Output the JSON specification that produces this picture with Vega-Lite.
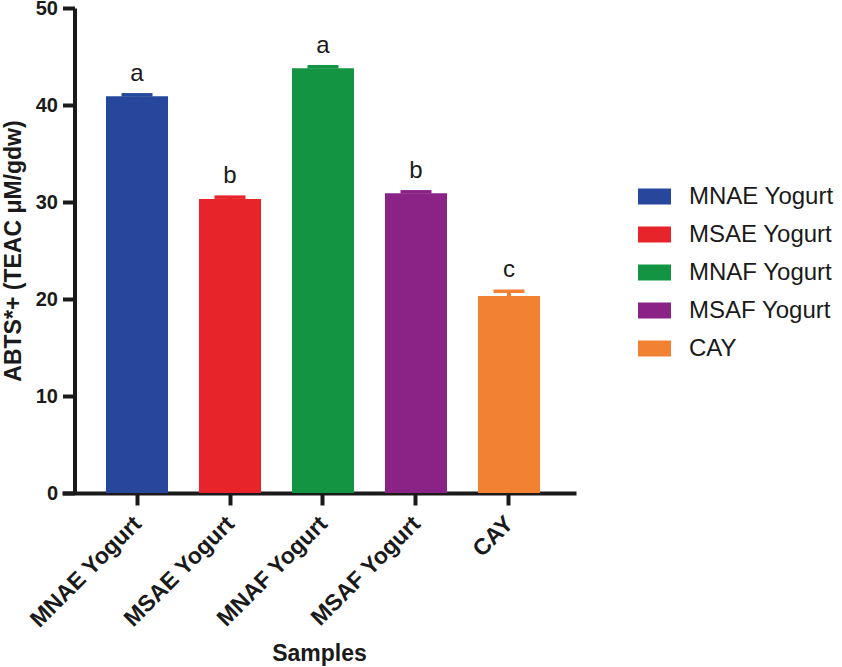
{
  "$schema": "https://vega.github.io/schema/vega-lite/v6.json",
  "autosize": {"type": "none"},
  "padding": {"left": 62, "top": 8, "right": 266, "bottom": 174},
  "width": 514,
  "height": 485,
  "background": "white",
  "config": {
    "view": {"stroke": null},
    "font": "Liberation Sans",
    "axis": {"grid": false, "domainColor": "#1a1a1a", "tickColor": "#1a1a1a", "labelColor": "#1a1a1a", "titleColor": "#1a1a1a", "zindex": 1}
  },
  "data": {
    "values": [
      {"Sample": "MNAE Yogurt", "ABTS": 40.9, "upper": 41.05, "group": "a"},
      {"Sample": "MSAE Yogurt", "ABTS": 30.3, "upper": 30.5, "group": "b"},
      {"Sample": "MNAF Yogurt", "ABTS": 43.8, "upper": 43.95, "group": "a"},
      {"Sample": "MSAF Yogurt", "ABTS": 30.9, "upper": 31.05, "group": "b"},
      {"Sample": "CAY", "ABTS": 20.3, "upper": 20.8, "group": "c"}
    ]
  },
  "encoding": {
    "x": {
      "field": "Sample",
      "type": "nominal",
      "sort": null,
      "scale": {"paddingInner": 0.333, "paddingOuter": 0.43, "align": 0.55},
      "axis": {
        "title": "Samples",
        "titleFontWeight": "bold",
        "titleFontSize": 23,
        "titlePadding": 11,
        "labelAngle": -45,
        "labelAlign": "right",
        "labelBaseline": "top",
        "labelFontSize": 23,
        "labelFontWeight": "bold",
        "labelPadding": 7,
        "labelOffset": -7,
        "domainWidth": 4,
        "tickWidth": 4,
        "tickSize": 12
      }
    },
    "y": {
      "type": "quantitative",
      "scale": {"domain": [0, 50]},
      "axis": {
        "title": "ABTS*+ (TEAC μM/gdw)",
        "titleFontWeight": "bold",
        "titleFontSize": 23,
        "titlePadding": 10,
        "values": [0, 10, 20, 30, 40, 50],
        "labelFontSize": 20,
        "labelFontWeight": "bold",
        "labelPadding": 5,
        "domainWidth": 4,
        "tickWidth": 4,
        "tickSize": 12,
        "offset": -12.5
      }
    },
    "color": {
      "field": "Sample",
      "type": "nominal",
      "sort": null,
      "scale": {
        "domain": ["MNAE Yogurt", "MSAE Yogurt", "MNAF Yogurt", "MSAF Yogurt", "CAY"],
        "range": ["#26479B", "#E8242B", "#139443", "#8B2387", "#F28232"]
      },
      "legend": null
    }
  },
  "layer": [
    {
      "mark": {"type": "bar"},
      "encoding": {
        "y": {"field": "ABTS"},
        "color": {
          "field": "Sample",
          "type": "nominal",
          "sort": null,
          "legend": {
            "title": null,
            "orient": "none",
            "legendX": 576,
            "legendY": 172,
            "symbolType": "M-1,-0.485H1V0.485H-1Z",
            "symbolSize": 1089,
            "symbolStrokeWidth": 0,
            "symbolOpacity": 1,
            "labelFontSize": 24,
            "labelColor": "#1a1a1a",
            "labelOffset": 18,
            "rowPadding": 9,
            "offset": 0
          }
        }
      }
    },
    {
      "mark": {"type": "rule", "strokeWidth": 4, "opacity": 1},
      "encoding": {"y": {"field": "ABTS"}, "y2": {"field": "upper"}}
    },
    {
      "mark": {"type": "tick", "size": 31, "thickness": 3.5, "opacity": 1},
      "encoding": {"y": {"field": "upper"}}
    },
    {
      "mark": {"type": "text", "fontSize": 24, "baseline": "alphabetic", "dy": -14},
      "encoding": {"y": {"field": "upper"}, "text": {"field": "group"}, "color": {"value": "#1a1a1a"}}
    }
  ]
}
